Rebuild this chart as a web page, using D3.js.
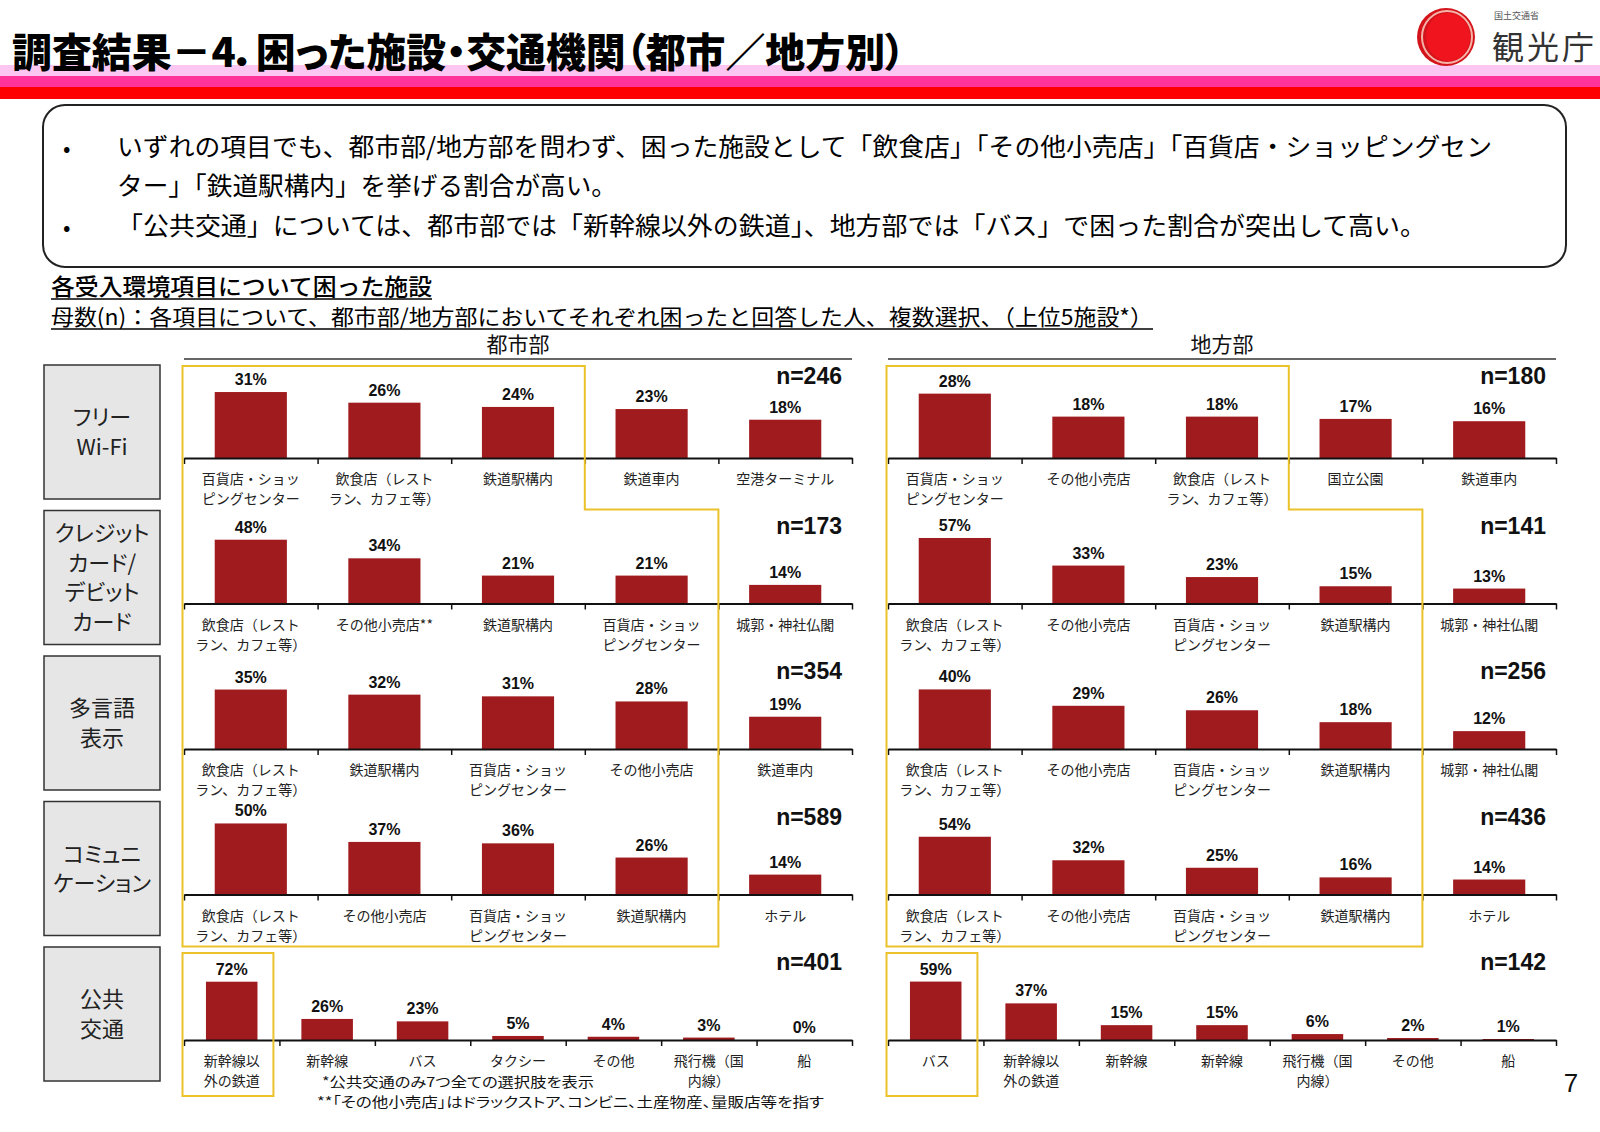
<!DOCTYPE html>
<html><head><meta charset="utf-8">
<script src="https://cdn.jsdelivr.net/npm/d3@7"></script>
<style>
body{margin:0;background:#fff;}
svg text{font-family:"Noto Sans CJK JP","Noto Sans",sans-serif;font-feature-settings:"palt";}
.num{font-family:"Liberation Sans",Arial,sans-serif !important;font-weight:700;}
.cat{font-feature-settings:normal !important;}
</style></head><body>
<svg id="c" width="1600" height="1132"></svg>
<script>
// ---------------- DATA ----------------
const rowLabels = [["フリー","Wi-Fi"],["クレジット","カード/","デビット","カード"],["多言語","表示"],["コミュニ","ケーション"],["公共","交通"]];
const cityN = [246,173,354,589,401];
const ruralN = [180,141,256,436,142];
const cityCats = [
  ["百貨店・ショッ\nピングセンター","飲食店（レスト\nラン、カフェ等）","鉄道駅構内","鉄道車内","空港ターミナル"],
  ["飲食店（レスト\nラン、カフェ等）","その他小売店**","鉄道駅構内","百貨店・ショッ\nピングセンター","城郭・神社仏閣"],
  ["飲食店（レスト\nラン、カフェ等）","鉄道駅構内","百貨店・ショッ\nピングセンター","その他小売店","鉄道車内"],
  ["飲食店（レスト\nラン、カフェ等）","その他小売店","百貨店・ショッ\nピングセンター","鉄道駅構内","ホテル"],
  ["新幹線以\n外の鉄道","新幹線","バス","タクシー","その他","飛行機（国\n内線）","船"]
];
const cityValues = [[31,26,24,23,18],[48,34,21,21,14],[35,32,31,28,19],[50,37,36,26,14],[72,26,23,5,4,3,0]];
const ruralCats = [
  ["百貨店・ショッ\nピングセンター","その他小売店","飲食店（レスト\nラン、カフェ等）","国立公園","鉄道車内"],
  ["飲食店（レスト\nラン、カフェ等）","その他小売店","百貨店・ショッ\nピングセンター","鉄道駅構内","城郭・神社仏閣"],
  ["飲食店（レスト\nラン、カフェ等）","その他小売店","百貨店・ショッ\nピングセンター","鉄道駅構内","城郭・神社仏閣"],
  ["飲食店（レスト\nラン、カフェ等）","その他小売店","百貨店・ショッ\nピングセンター","鉄道駅構内","ホテル"],
  ["バス","新幹線以\n外の鉄道","新幹線","新幹線","飛行機（国\n内線）","その他","船"]
];
const ruralValues = [[28,18,18,17,16],[57,33,23,15,13],[40,29,26,18,12],[54,32,25,16,14],[59,37,15,15,6,2,1]];
const cityAxisMax = [37.6,60.2,47.1,56.3,98.8];
const ruralAxisMax = [34.8,69.6,53.7,74.8,80.8];
const highlightCount = [3,4,4,4,1];
const titleText = "調査結果－4．困った施設・交通機関（都市／地方別）";
const bulletLines = [
  "いずれの項目でも、都市部/地方部を問わず、困った施設として「飲食店」「その他小売店」「百貨店・ショッピングセン",
  "ター」「鉄道駅構内」を挙げる割合が高い。",
  "「公共交通」については、都市部では「新幹線以外の鉄道」、地方部では「バス」で困った割合が突出して高い。"
];
const subTitle = "各受入環境項目について困った施設";
const subNote = "母数(n)：各項目について、都市部/地方部においてそれぞれ困ったと回答した人、複数選択、（上位5施設*）";
const footnotes = ["*公共交通のみ7つ全ての選択肢を表示","**「その他小売店」はドラックストア、コンビニ、土産物産、量販店等を指す"];
const panelNames = ["都市部","地方部"];

// ---------------- DRAW ----------------
const svg = d3.select("#c");
const BAR = "#A01B1E", YEL = "#EBC22A";

// header stripes
svg.append("rect").attr("x",0).attr("y",65).attr("width",1600).attr("height",11).attr("fill","#FBC6F2");
svg.append("rect").attr("x",0).attr("y",76).attr("width",1600).attr("height",11).attr("fill","#FF3399");
svg.append("rect").attr("x",0).attr("y",87).attr("width",1600).attr("height",12).attr("fill","#FF0000");
svg.append("rect").attr("x",1390).attr("y",0).attr("width",210).attr("height",65).attr("fill","#fff");

svg.append("text").attr("x",12).attr("y",67).attr("font-size",40).attr("font-weight",900)
  .attr("textLength",893).attr("lengthAdjust","spacingAndGlyphs").attr("fill","#000").text(titleText);

// logo
const lg = svg.append("g");
lg.append("circle").attr("cx",1446).attr("cy",37).attr("r",29).attr("fill","#D3141B");
lg.append("ellipse").attr("cx",1447).attr("cy",37).attr("rx",25).attr("ry",26).attr("fill","none").attr("stroke","#F6B3A8").attr("stroke-width",2);
lg.append("ellipse").attr("cx",1448).attr("cy",37).attr("rx",22).attr("ry",24).attr("fill","#F0141E");
lg.append("text").attr("x",1494).attr("y",19).attr("font-size",9).attr("fill","#555").text("国土交通省");
lg.append("text").attr("x",1492).attr("y",59).attr("font-size",32).attr("fill","#333").attr("letter-spacing",3).text("観光庁");

// text box
svg.append("rect").attr("x",43).attr("y",105).attr("width",1523).attr("height",162).attr("rx",22)
  .attr("fill","#fff").attr("stroke","#222").attr("stroke-width",2);
const lineBase = [156,195,235];
const lineLen = [1375,500,1309];
bulletLines.forEach((t,i)=>{
  if(i!==1) svg.append("text").attr("x",63).attr("y",lineBase[i]).attr("font-size",22).attr("fill","#000").text("•");
  svg.append("text").attr("x",117).attr("y",lineBase[i]).attr("font-size",25).attr("fill","#000")
    .attr("textLength",lineLen[i]).attr("lengthAdjust","spacingAndGlyphs").style("font-feature-settings","normal").text(t);
});

// subtitles
svg.append("text").attr("x",51).attr("y",295).attr("font-size",23).attr("font-weight",500)
  .attr("textLength",381).attr("lengthAdjust","spacingAndGlyphs").style("font-feature-settings","normal").text(subTitle);
svg.append("line").attr("x1",51).attr("x2",432).attr("y1",299).attr("y2",299).attr("stroke","#000").attr("stroke-width",1.5);
svg.append("text").attr("x",51).attr("y",325).attr("font-size",22)
  .attr("textLength",1102).attr("lengthAdjust","spacingAndGlyphs").style("font-feature-settings","normal").text(subNote);
svg.append("line").attr("x1",51).attr("x2",1153).attr("y1",329).attr("y2",329).attr("stroke","#000").attr("stroke-width",1.5);

// row layout
const rowY = d3.scaleLinear().domain([0,4]).range([458,1040]);

// row label boxes
rowLabels.forEach((lines,r)=>{
  const base = rowY(r);
  const top = base-93, h=134;
  svg.append("rect").attr("x",44).attr("y",top).attr("width",116).attr("height",h)
    .attr("fill","#E6E6E6").attr("stroke","#333").attr("stroke-width",1.5);
  const lh = 29.5, cy = top+h/2;
  lines.forEach((l,k)=>{
    svg.append("text").attr("x",102).attr("y",cy+(k-(lines.length-1)/2)*lh+8)
      .attr("text-anchor","middle").attr("font-size",22).attr("fill","#222").text(l);
  });
});

const panels = [
  {name:panelNames[0],left:184,right:852,cats:cityCats,vals:cityValues,n:cityN,max:cityAxisMax},
  {name:panelNames[1],left:888,right:1556,cats:ruralCats,vals:ruralValues,n:ruralN,max:ruralAxisMax}
];

panels.forEach(p=>{
  const g = svg.append("g");
  g.append("text").attr("x",(p.left+p.right)/2).attr("y",352).attr("text-anchor","middle")
    .attr("font-size",21).attr("fill","#111").text(p.name);
  g.append("line").attr("x1",p.left).attr("x2",p.right).attr("y1",359).attr("y2",359).attr("stroke","#333").attr("stroke-width",1.5);

  const edges = [];
  p.cats.forEach((cats,r)=>{
    const base = rowY(r);
    const idx = d3.range(cats.length);
    const x = d3.scaleBand().domain(idx).range([p.left,p.right]).padding(0);
    const bw = x.bandwidth();
    const y = d3.scaleLinear().domain([0,p.max[r]]).range([base,base-80]);
    const xe = d3.scaleLinear().domain([0,cats.length]).range([p.left,p.right]);
    edges.push(xe);
    const vals = p.vals[r];

    g.selectAll(null).data(idx).enter().append("rect")
      .attr("x",i=>x(i)+bw*0.23).attr("width",bw*0.54)
      .attr("y",i=>y(vals[i])).attr("height",i=>base-y(vals[i])).attr("fill",BAR);

    const ax = g.append("g").attr("transform",`translate(0,${base})`)
      .call(d3.axisBottom(xe).tickValues(d3.range(cats.length+1)).tickFormat("").tickSizeInner(6).tickSizeOuter(0));
    ax.select(".domain").attr("stroke","#111").attr("stroke-width",2);
    ax.selectAll(".tick line").attr("stroke","#111").attr("stroke-width",1.5);

    g.selectAll(null).data(idx).enter().append("text").attr("class","num")
      .attr("x",i=>x(i)+bw/2).attr("y",i=>y(vals[i])-7).attr("text-anchor","middle")
      .attr("font-size",16).attr("fill","#111").text(i=>vals[i]+"%");

    idx.forEach(i=>{
      cats[i].split("\n").forEach((l,k)=>{
        g.append("text").attr("class","cat").attr("x",x(i)+bw/2).attr("y",base+26+k*20).attr("text-anchor","middle")
          .attr("font-size",14).attr("fill","#222").text(l);
      });
    });

    g.append("text").attr("class","num").attr("x",p.right-10).attr("y",base-70-(r===0?4:0)).attr("text-anchor","end")
      .attr("font-size",23).attr("fill","#111").text("n="+p.n[r]);
  });

  // highlight outlines
  const x0 = p.left-1.5;
  const xa = edges[0](highlightCount[0]);
  const xb = edges[1](highlightCount[1]);
  const path = `M${x0},${rowY(0)-92}H${xa}V${rowY(1)-94}H${xb}V${rowY(3)+52}H${x0}Z`;
  g.append("path").attr("d",path).attr("fill","none").attr("stroke",YEL).attr("stroke-width",2);
  const xc = edges[4](highlightCount[4]) - 6;
  g.append("rect").attr("x",x0).attr("y",rowY(4)-87).attr("width",xc-x0).attr("height",143)
    .attr("fill","none").attr("stroke",YEL).attr("stroke-width",2);
});

// footnotes
svg.append("text").attr("x",322).attr("y",1087).attr("font-size",13.5).attr("fill","#111")
  .attr("textLength",272).attr("lengthAdjust","spacingAndGlyphs").text(footnotes[0]);
svg.append("text").attr("x",317).attr("y",1107).attr("font-size",13.5).attr("fill","#111")
  .attr("textLength",507).attr("lengthAdjust","spacingAndGlyphs").text(footnotes[1]);
svg.append("text").attr("class","num").attr("x",1571).attr("y",1092).attr("text-anchor","middle")
  .attr("font-size",26).style("font-weight",400).attr("fill","#111").text("7");
</script></body></html>
